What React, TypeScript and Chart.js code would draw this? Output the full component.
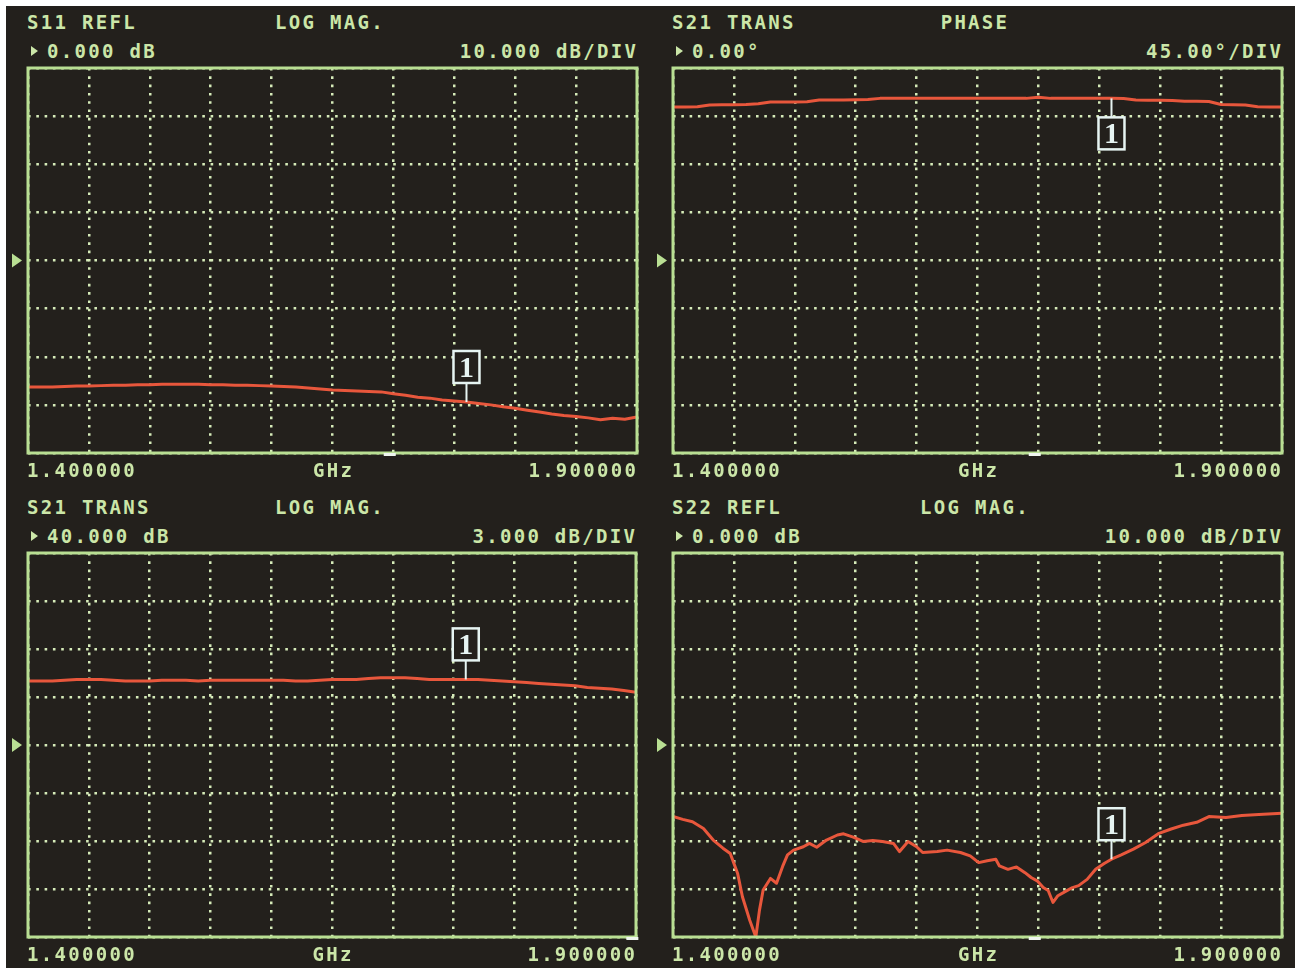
import React, { useEffect, useRef } from "react";
import { Chart, registerables } from "chart.js";

Chart.register(...registerables);

// ---------------- DATA ----------------
const FREQ_GHZ = [
  1.40, 1.41, 1.42, 1.43, 1.44, 1.45, 1.46, 1.47, 1.48, 1.49,
  1.50, 1.51, 1.52, 1.53, 1.54, 1.55, 1.56, 1.57, 1.58, 1.59,
  1.60, 1.61, 1.62, 1.63, 1.64, 1.65, 1.66, 1.67, 1.68, 1.69,
  1.70, 1.71, 1.72, 1.73, 1.74, 1.75, 1.76, 1.77, 1.78, 1.79,
  1.80, 1.81, 1.82, 1.83, 1.84, 1.85, 1.86, 1.87, 1.88, 1.89,
  1.90,
];

const S11_LOGMAG_DB = [
  -26.3, -26.3, -26.3, -26.2, -26.1, -26.1, -26.0, -25.9, -25.9, -25.8,
  -25.8, -25.7, -25.7, -25.7, -25.7, -25.8, -25.8, -25.9, -25.9, -26.0,
  -26.1, -26.2, -26.3, -26.5, -26.7, -26.9, -27.0, -27.1, -27.2, -27.3,
  -27.7, -28.0, -28.4, -28.6, -29.0, -29.2, -29.4, -29.7, -30.0, -30.4,
  -30.7, -31.1, -31.5, -31.9, -32.2, -32.4, -32.7, -33.1, -32.8, -33.0,
  -32.5,
];

const S21_PHASE_DEG = [
  143.6, 143.6, 143.8, 145.5, 145.7, 145.7, 145.9, 146.5, 148.2, 148.2,
  148.3, 148.5, 150.0, 150.1, 150.1, 150.2, 150.5, 151.6, 151.6, 151.6,
  151.6, 151.7, 151.6, 151.6, 151.7, 151.6, 151.6, 151.6, 151.7, 151.6,
  152.6, 151.6, 151.6, 151.7, 151.6, 151.6, 151.6, 151.5, 150.0, 149.8,
  149.8, 149.6, 148.8, 148.8, 148.6, 145.9, 145.7, 145.5, 143.8, 143.6,
  143.6,
];

const S21_LOGMAG_DB = [
  44.0, 44.0, 44.0, 44.05, 44.1, 44.1, 44.1, 44.05, 44.0, 44.0,
  44.0, 44.05, 44.05, 44.05, 44.0, 44.05, 44.05, 44.05, 44.05, 44.05,
  44.05, 44.05, 44.0, 44.0, 44.05, 44.1, 44.1, 44.1, 44.15, 44.2,
  44.2, 44.2, 44.15, 44.1, 44.1, 44.1, 44.1, 44.1, 44.05, 44.0,
  43.95, 43.9, 43.85, 43.8, 43.75, 43.7, 43.6, 43.55, 43.5, 43.4,
  43.3,
];

const S22_FREQ_GHZ = [
  1.400, 1.408, 1.416, 1.425, 1.433, 1.441, 1.447, 1.453, 1.457, 1.463,
  1.468, 1.471, 1.474, 1.480, 1.485, 1.490, 1.494, 1.499, 1.507, 1.512,
  1.518, 1.526, 1.535, 1.540, 1.548, 1.556, 1.564, 1.572, 1.581, 1.586,
  1.593, 1.600, 1.605, 1.617, 1.625, 1.636, 1.644, 1.651, 1.658, 1.665,
  1.668, 1.675, 1.682, 1.689, 1.694, 1.699, 1.704, 1.708, 1.712, 1.716,
  1.723, 1.728, 1.733, 1.740, 1.747, 1.754, 1.760, 1.768, 1.778, 1.788,
  1.799, 1.809, 1.819, 1.830, 1.840, 1.854, 1.867, 1.881, 1.900,
];

const S22_LOGMAG_DB = [
  -14.9, -15.5, -16.0, -17.4, -19.8, -21.5, -22.6, -26.7, -31.6, -36.5,
  -40.0, -34.4, -30.2, -27.8, -28.8, -25.3, -22.9, -21.9, -21.2, -20.5,
  -21.3, -19.8, -18.75, -18.5, -19.2, -20.1, -19.9, -20.1, -20.5, -22.2,
  -20.1, -21.2, -22.4, -22.2, -21.9, -22.4, -23.1, -24.5, -24.1, -23.8,
  -25.2, -25.9, -25.4, -26.6, -27.6, -28.3, -29.7, -30.3, -32.8, -31.4,
  -30.4, -29.7, -29.3, -28.0, -25.9, -24.7, -23.8, -22.9, -21.7, -20.3,
  -18.4, -17.5, -16.7, -16.1, -14.9, -15.1, -14.7, -14.5, -14.2,
];

const PANEL_TITLES = ["S11 REFL", "S21 TRANS", "S21 TRANS", "S22 REFL"];
const PANEL_FORMATS = ["LOG MAG.", "PHASE", "LOG MAG.", "LOG MAG."];
const PANEL_REF_LABELS = ["0.000 dB", "0.00°", "40.000 dB", "0.000 dB"];
const PANEL_SCALE_LABELS = ["10.000 dB/DIV", "45.00°/DIV", "3.000 dB/DIV", "10.000 dB/DIV"];
const PANEL_REF_VALUES = [0, 0, 40, 0];
const PANEL_PER_DIV = [10, 45, 3, 10];
const START_LABEL = "1.400000";
const STOP_LABEL = "1.900000";
const UNIT_LABEL = "GHz";
const START_GHZ = 1.4;
const STOP_GHZ = 1.9;
const FREQ_STEP_GHZ = 0.05;
const MARKER_GHZ = 1.76;
const MARKER_LABEL = "1";
const STIM_TICK_GHZ = [1.697, 1.697, 1.897, 1.697];

const PANEL_X = [FREQ_GHZ, FREQ_GHZ, FREQ_GHZ, S22_FREQ_GHZ];
const PANEL_Y = [S11_LOGMAG_DB, S21_PHASE_DEG, S21_LOGMAG_DB, S22_LOGMAG_DB];

// ---------------- LAYOUT / STYLE ----------------
const W = 1295;
const H = 968;
const BG = "#23201c";
const FRAME = "#b9df93";
const TEXT = "#cbe6a8";
const DOT = "#d6ebb9";
const TRACE = "#e8573c";
const MARK = "#e6f4f2";

const FRAMES = [
  { l: 28, t: 68, r: 637, b: 453 },
  { l: 673, t: 68, r: 1282, b: 453 },
  { l: 28, t: 553, r: 636, b: 937 },
  { l: 673, t: 553, r: 1282, b: 937 },
];
const MARKER_ABOVE = [true, false, true, true];
const PAD = { l: 24, t: 6, r: 6, b: 8 };

const FONT_SIZE = 19;
const LS = 2.3;
const PITCH = FONT_SIZE * 0.602 + LS;

const txtStyle: React.CSSProperties = {
  position: "absolute",
  fontFamily: "'DejaVu Sans Mono', monospace",
  fontWeight: "bold",
  fontSize: FONT_SIZE,
  lineHeight: FONT_SIZE + "px",
  letterSpacing: LS,
  color: TEXT,
  whiteSpace: "pre",
};

function Txt({ x, cy, text, align }: { x: number; cy: number; text: string; align: "left" | "right" | "center" }) {
  const top = cy - FONT_SIZE * 0.4815;
  const s: React.CSSProperties = { ...txtStyle, top };
  if (align === "left") s.left = x - 1;
  else if (align === "right") s.right = W - x - LS;
  else {
    s.left = x + LS / 2;
    s.transform = "translateX(-50%)";
  }
  return <div style={s}>{text}</div>;
}

function Panel({ i }: { i: number }) {
  const ref = useRef<HTMLCanvasElement>(null);
  const f = FRAMES[i];
  const cw = f.r - f.l + PAD.l + PAD.r;
  const ch = f.b - f.t + PAD.t + PAD.b;

  useEffect(() => {
    const xs = PANEL_X[i];
    const ys = PANEL_Y[i];
    const refV = PANEL_REF_VALUES[i];
    const div = PANEL_PER_DIV[i];
    const decor = {
      id: "decor" + i,
      afterDatasetsDraw(chart: any) {
        const { ctx, chartArea: a, scales } = chart;
        const sx = scales.x;
        const sy = scales.y;
        ctx.save();
        // frame
        ctx.strokeStyle = FRAME;
        ctx.lineWidth = 3;
        ctx.strokeRect(a.left, a.top, a.right - a.left, a.bottom - a.top);
        // reference arrow
        const ry = sy.getPixelForValue(refV);
        ctx.fillStyle = FRAME;
        ctx.beginPath();
        ctx.moveTo(a.left - 16, ry - 7);
        ctx.lineTo(a.left - 6, ry);
        ctx.lineTo(a.left - 16, ry + 7);
        ctx.closePath();
        ctx.fill();
        // stimulus tick
        const tx = sx.getPixelForValue(STIM_TICK_GHZ[i]);
        ctx.fillStyle = "#eef5ee";
        ctx.fillRect(tx - 6, a.bottom, 12, 3);
        // marker
        let best = 0;
        for (let k = 0; k < xs.length; k++) {
          if (Math.abs(xs[k] - MARKER_GHZ) < Math.abs(xs[best] - MARKER_GHZ)) best = k;
        }
        const mx = sx.getPixelForValue(MARKER_GHZ);
        const my = sy.getPixelForValue(ys[best]);
        const bw = 26;
        const bh = 32;
        const gap = 19;
        const above = MARKER_ABOVE[i];
        const boxTop = above ? my - gap - bh : my + gap;
        ctx.fillStyle = BG;
        ctx.fillRect(mx - bw / 2, boxTop, bw, bh);
        ctx.strokeStyle = MARK;
        ctx.lineWidth = 2.5;
        ctx.strokeRect(mx - bw / 2, boxTop, bw, bh);
        ctx.lineWidth = 2;
        ctx.beginPath();
        if (above) {
          ctx.moveTo(mx, boxTop + bh);
          ctx.lineTo(mx, my);
        } else {
          ctx.moveTo(mx, my);
          ctx.lineTo(mx, boxTop);
        }
        ctx.stroke();
        ctx.fillStyle = MARK;
        ctx.font = "bold 30px 'Liberation Serif', serif";
        ctx.textAlign = "center";
        ctx.textBaseline = "middle";
        ctx.fillText(MARKER_LABEL, mx, boxTop + bh / 2 + 2);
        ctx.restore();
      },
    };
    const chart = new Chart(ref.current as HTMLCanvasElement, {
      type: "line",
      data: {
        datasets: [
          {
            data: xs.map((x, k) => ({ x, y: ys[k] })),
            borderColor: TRACE,
            borderWidth: 3,
            pointRadius: 0,
            tension: 0,
            borderJoinStyle: "round",
          } as any,
        ],
      },
      options: {
        animation: false,
        responsive: false,
        maintainAspectRatio: false,
        events: [],
        layout: { padding: { left: PAD.l, top: PAD.t, right: PAD.r, bottom: PAD.b } },
        plugins: { legend: { display: false }, tooltip: { enabled: false }, title: { display: false } },
        scales: {
          x: {
            type: "linear",
            min: START_GHZ,
            max: STOP_GHZ,
            ticks: { display: false, stepSize: FREQ_STEP_GHZ },
            grid: { color: DOT, lineWidth: 2.5, drawTicks: false },
            border: { display: false, dash: [2.6, 5.7] },
          },
          y: {
            type: "linear",
            min: refV - 4 * div,
            max: refV + 4 * div,
            ticks: { display: false, stepSize: div },
            grid: { color: DOT, lineWidth: 2.5, drawTicks: false },
            border: { display: false, dash: [2.6, 5.7] },
          },
        },
      } as any,
      plugins: [decor],
    });
    return () => chart.destroy();
  }, [i]);

  return (
    <canvas
      ref={ref}
      width={cw}
      height={ch}
      style={{ position: "absolute", left: f.l - PAD.l, top: f.t - PAD.t, width: cw, height: ch }}
    />
  );
}

function Texts({ i }: { i: number }) {
  const f = FRAMES[i];
  const fmt = PANEL_FORMATS[i];
  const fmtLeft = f.l + 303 - (fmt.length * PITCH) / 2;
  const l2 = f.t - 17;
  return (
    <>
      <Txt x={f.l} cy={f.t - 46} text={PANEL_TITLES[i]} align="left" />
      <Txt x={fmtLeft} cy={f.t - 46} text={fmt} align="left" />
      <div
        style={{
          position: "absolute",
          left: f.l + 3,
          top: l2 - 5,
          width: 0,
          height: 0,
          borderLeft: "7px solid " + TEXT,
          borderTop: "5px solid transparent",
          borderBottom: "5px solid transparent",
        }}
      />
      <Txt x={f.l + 20} cy={l2} text={PANEL_REF_LABELS[i]} align="left" />
      <Txt x={f.r - 1} cy={l2} text={PANEL_SCALE_LABELS[i]} align="right" />
      <Txt x={f.l} cy={f.b + 17} text={START_LABEL} align="left" />
      <Txt x={(f.l + f.r) / 2} cy={f.b + 17} text={UNIT_LABEL} align="center" />
      <Txt x={f.r - 1} cy={f.b + 17} text={STOP_LABEL} align="right" />
    </>
  );
}

export default function App() {
  return (
    <div style={{ position: "fixed", left: 0, top: 0, width: W, height: H, background: "#ffffff", overflow: "hidden" }}>
      <div style={{ position: "absolute", left: 6, top: 6, right: 0, bottom: 0, background: BG }} />
      {[0, 1, 2, 3].map((i) => (
        <React.Fragment key={i}>
          <Panel i={i} />
          <Texts i={i} />
        </React.Fragment>
      ))}
    </div>
  );
}
